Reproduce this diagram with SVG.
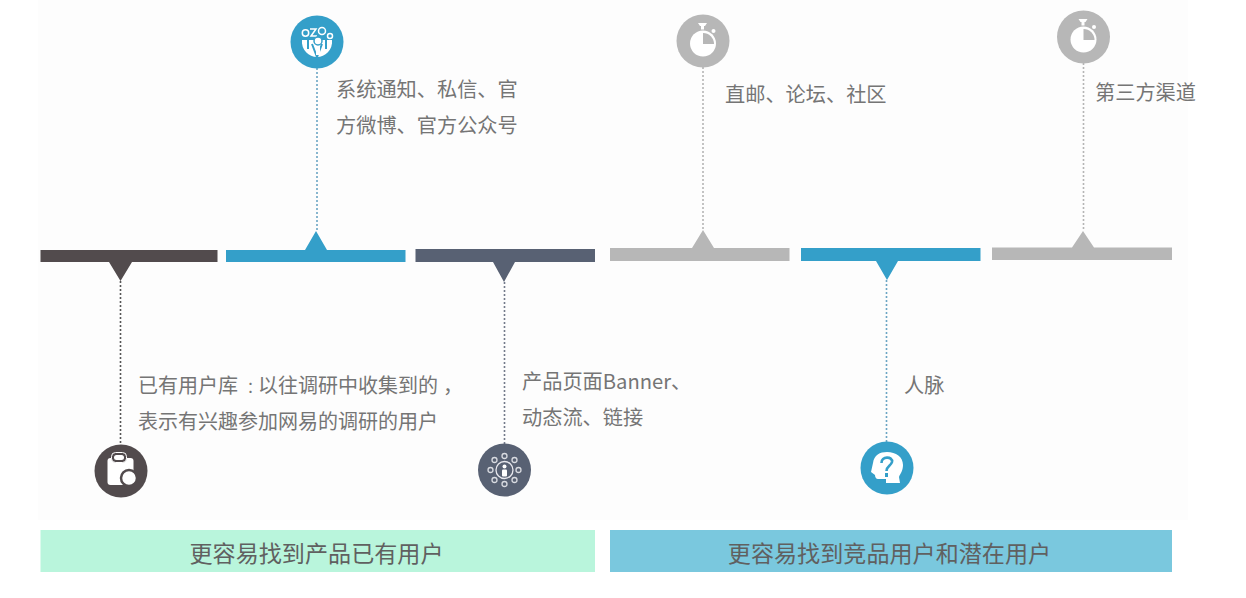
<svg xmlns="http://www.w3.org/2000/svg" width="1246" height="598" viewBox="0 0 1246 598">
<style>
text{font-family:"Noto Sans CJK SC","Liberation Sans",sans-serif;fill:#757575;font-size:20.200px}
.b{font-size:23.100px;fill:#606060;text-anchor:middle}
.s{font-size:20px}
.t{font-family:"Noto Sans CJK TC",sans-serif;font-size:15px}
.c{fill:none;stroke-width:1.600;stroke-dasharray:2 2}
.w{fill:#fff}
.l{fill:none;stroke:#fff;stroke-width:1.500}
</style>
<rect width="1246" height="598" fill="#fff"/>
<rect x="38" width="1150" height="520" fill="#fdfdfd"/>
<g id="connectors">
<path class="c" stroke="#555" d="M120.500 281V445"/>
<path class="c" stroke="#6ba5c4" d="M317 68V231"/>
<path class="c" stroke="#737a8a" d="M504.500 282V444"/>
<path class="c" stroke="#b5b5b5" d="M703 67V230"/>
<path class="c" stroke="#6ba5c4" d="M886.500 280V442"/>
<path class="c" stroke="#b5b5b5" d="M1083.500 63V231"/>
</g>
<g id="bar1"><path fill="#524b4d" d="M40.500 250H217.500V262H132L120.500 281L109 262H40.500Z"/></g>
<g id="bar2"><path fill="#349fc9" d="M226 250H305L316 231L327 250H405.500V262H226Z"/></g>
<g id="bar3"><path fill="#586173" d="M415.500 249H595V262H515L504 282L493 262H415.500Z"/></g>
<g id="bar4"><path fill="#b7b7b7" d="M610 248H692L703 230L714 248H789.500V261H610Z"/></g>
<g id="bar5"><path fill="#349fc9" d="M801 248H980.500V261H898L887 280L876 261H801Z"/></g>
<g id="bar6"><path fill="#b7b7b7" d="M992 247.500H1072L1083 231L1094 247.500H1172V260H992Z"/></g>
<g id="node1">
<circle cx="121" cy="471" r="26.500" fill="#524b4d"/>
<rect x="107.500" y="458" width="26" height="27" rx="3" class="w"/>
<rect x="111.500" y="452.500" width="15" height="10" rx="4" fill="#524b4d" stroke="#fff" stroke-width="1"/>
<rect x="114" y="455" width="10" height="5" rx="2.500" class="w"/>
<circle cx="129" cy="478" r="8" class="w" stroke="#524b4d" stroke-width="2.500"/>
</g>
<g id="node2">
<circle cx="317" cy="42" r="26.500" fill="#349fc9"/>
<path class="w" d="M302 40H332C333 50 325 57 317 57C309 57 301 50 302 40Z"/>
<g class="l" stroke-width="2">
<circle cx="305.500" cy="33" r="3.200"/><circle cx="322" cy="31" r="3.500"/><circle cx="330" cy="36" r="2.500"/>
<path d="M310 29h6l-5 7h6"/>
</g>
<path fill="none" stroke="#349fc9" stroke-width="2" d="M308 40V49M326 40V49M312 44L317 57L322 44"/>
<circle cx="318" cy="41" r="4" class="w" stroke="#349fc9" stroke-width="1.500"/>
<rect x="316" y="46" width="4" height="9" class="w"/>
</g>
<g id="node3">
<circle cx="504.500" cy="470" r="26.500" fill="#586173"/>
<circle cx="504.500" cy="470" r="8.500" fill="none" stroke="#e8e8ee" stroke-width="1.300"/>
<circle cx="504.500" cy="466.500" r="2" class="w"/>
<rect x="502" y="469.500" width="5" height="7" rx="1" class="w"/>
<g fill="none" stroke="#d8dae0" stroke-width="1.300">
<circle cx="504.500" cy="456" r="2.500"/><circle cx="504.500" cy="484" r="2.500"/><circle cx="490.500" cy="470" r="2.500"/><circle cx="518.500" cy="470" r="2.500"/>
<circle cx="494.500" cy="460" r="2.500"/><circle cx="514.500" cy="460" r="2.500"/><circle cx="494.500" cy="480" r="2.500"/><circle cx="514.500" cy="480" r="2.500"/>
</g>
</g>
<g id="node4">
<circle cx="703" cy="41" r="26.500" fill="#b7b7b7"/>
<circle cx="703" cy="43.500" r="13" class="w"/>
<path fill="#b7b7b7" d="M703 33A11 11 0 0 1 714 44H703Z"/>
<path class="w" d="M698 23h9l-2 3h-1v3.500h-3V26h-1Z"/>
<circle cx="713.500" cy="31" r="2" class="w"/>
</g>
<g id="node5">
<circle cx="887" cy="468" r="26.500" fill="#349fc9"/>
<path class="w" d="M873 463C874 455 880 452 887 452C896 452 903 457 903 465C903 471 900 474 899 477L900 483H886V479H878C876 479 875 477 875 475L871 472Z"/>
<path fill="none" stroke="#349fc9" stroke-width="2.600" d="M881.500 463C881 456 893 456 892 462C891 466 886.500 466 886.500 471"/>
<rect x="885" y="473" width="3" height="4" fill="#349fc9"/>
</g>
<g id="node6">
<circle cx="1083.500" cy="37" r="26.500" fill="#b7b7b7"/>
<circle cx="1083.500" cy="39.500" r="13" class="w"/>
<path fill="#b7b7b7" d="M1083.500 29A11 11 0 0 1 1094.500 40H1083.500Z"/>
<path class="w" d="M1078.500 19h9l-2 3h-1v3.500h-3V22h-1Z"/>
<circle cx="1094" cy="27" r="2" class="w"/>
</g>
<g id="labels">
<text x="336" y="97">系统通知、私信、官</text>
<text x="336" y="133">方微博、官方公众号</text>
<text x="725" y="102">直邮、论坛、社区</text>
<text x="1095" y="100">第三方渠道</text>
<text class="s" x="138" y="393">已有用户库<tspan class="t" dx="5">：</tspan>以往调研中收集到的<tspan dx="5">，</tspan></text>
<text class="s" x="138" y="429">表示有兴趣参加网易的调研的用户</text>
<text x="522" y="389">产品页面Banner、</text>
<text x="522" y="425">动态流、链接</text>
<text x="904" y="393">人脉</text>
</g>
<g id="box1"><rect x="40.500" y="530" width="554.500" height="42" fill="#b9f5dc"/><text class="b" x="316.500" y="562">更容易找到产品已有用户</text></g>
<g id="box2"><rect x="610" y="530" width="562" height="42" fill="#7ac8de"/><text class="b" x="889.500" y="562">更容易找到竞品用户和潜在用户</text></g>
</svg>
